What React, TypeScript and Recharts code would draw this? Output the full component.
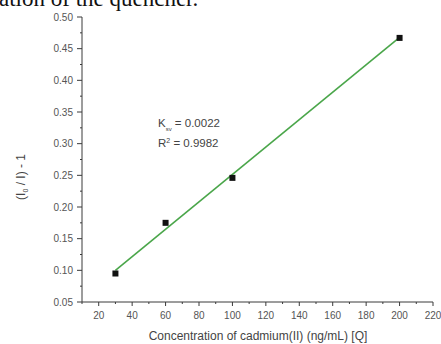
import React from "react";
import { ComposedChart, XAxis, YAxis, Scatter } from "recharts";

// measured points: [Q] (ng/mL) vs (I0/I) - 1
const concentrations = [30, 60, 100, 200];
const quenching = [0.095, 0.175, 0.246, 0.467];

// linear fit end points
const fitX = [30, 200];
const fitY = [0.1, 0.468];

const xTicks = [10, 20, 30, 40, 50, 60, 70, 80, 90, 100, 110, 120, 130, 140, 150, 160, 170, 180, 190, 200, 210, 220];
const yTicks = [0.05, 0.075, 0.1, 0.125, 0.15, 0.175, 0.2, 0.225, 0.25, 0.275, 0.3, 0.325, 0.35, 0.375, 0.4, 0.425, 0.45, 0.475, 0.5];

const points = concentrations.map((x, i) => ({ x, y: quenching[i] }));
const fitLine = fitX.map((x, i) => ({ x, y: fitY[i] }));

const FONT = "'Liberation Sans', Arial, sans-serif";
const AXIS = "#3a3a3a";
const TEXT = "#555";
const GREEN = "#4aa64a";

function XTick(props: any) {
  const { x, y, payload } = props;
  const major = Math.round(payload.value) % 20 === 0;
  return (
    <g>
      <line x1={x} x2={x} y1={y} y2={y + (major ? 4 : 2)} stroke={AXIS} strokeWidth={1} />
      {major && (
        <text x={x} y={y + 17} textAnchor="middle" fontSize={10} fill={TEXT} fontFamily={FONT}>
          {payload.value}
        </text>
      )}
    </g>
  );
}

function YTick(props: any) {
  const { x, y, payload } = props;
  const idx = Math.round((payload.value - 0.05) / 0.025);
  const major = idx % 2 === 0;
  return (
    <g>
      <line x1={x - (major ? 5 : 2)} x2={x} y1={y} y2={y} stroke={AXIS} strokeWidth={1} />
      {major && (
        <text x={x - 9} y={y + 3.5} textAnchor="end" fontSize={10} fill={TEXT} fontFamily={FONT}>
          {payload.value.toFixed(2)}
        </text>
      )}
    </g>
  );
}

const square = (p: any) => <rect x={p.cx - 3} y={p.cy - 3} width={6} height={6} fill="#111" />;

export default function App() {
  return (
    <div style={{ position: "fixed", left: 0, top: 0, width: 441, height: 344, background: "#fff", overflow: "hidden" }}>
      <div
        style={{
          position: "absolute",
          left: -1,
          top: -14,
          fontFamily: "'Liberation Serif', 'Times New Roman', serif",
          fontSize: 23,
          lineHeight: "26px",
          color: "#111",
          whiteSpace: "nowrap",
        }}
      >
        ation of the quencher.
      </div>
      <ComposedChart width={441} height={344} margin={{ top: 17, right: 8, bottom: 0, left: 0 }}>
        <XAxis
          type="number"
          dataKey="x"
          domain={[10, 220]}
          ticks={xTicks}
          interval={0}
          tickLine={false}
          tickSize={0}
          tickMargin={0}
          height={42}
          axisLine={{ stroke: AXIS }}
          tick={<XTick />}
        />
        <YAxis
          type="number"
          dataKey="y"
          domain={[0.05, 0.5]}
          ticks={yTicks}
          interval={0}
          tickLine={false}
          tickSize={0}
          tickMargin={0}
          width={82}
          axisLine={{ stroke: AXIS }}
          tick={<YTick />}
        />
        <Scatter
          data={fitLine}
          line={{ stroke: GREEN, strokeWidth: 1.6 }}
          shape={() => <g />}
          isAnimationActive={false}
        />
        <Scatter data={points} shape={square} isAnimationActive={false} />
      </ComposedChart>
      <svg width={441} height={344} style={{ position: "absolute", left: 0, top: 0, pointerEvents: "none" }}>
        <text x={158} y={127} fontSize={11.5} fill="#444" fontFamily={FONT}>
          K<tspan fontSize={6} dy={4}>sv</tspan>
          <tspan dy={-4}> = 0.0022</tspan>
        </text>
        <text x={158} y={147} fontSize={11.5} fill="#444" fontFamily={FONT}>
          R<tspan fontSize={7} dy={-4}>2</tspan>
          <tspan dy={4}> = 0.9982</tspan>
        </text>
        <text
          transform="translate(25,177) rotate(-90)"
          textAnchor="middle"
          fontSize={12}
          fill="#444"
          fontFamily={FONT}
        >
          (I<tspan fontSize={7} dy={3}>0</tspan>
          <tspan dy={-3}> / I) - 1</tspan>
        </text>
        <text x={258} y={340} textAnchor="middle" fontSize={12} fill="#444" fontFamily={FONT}>
          Concentration of cadmium(II) (ng/mL) [Q]
        </text>
      </svg>
    </div>
  );
}
